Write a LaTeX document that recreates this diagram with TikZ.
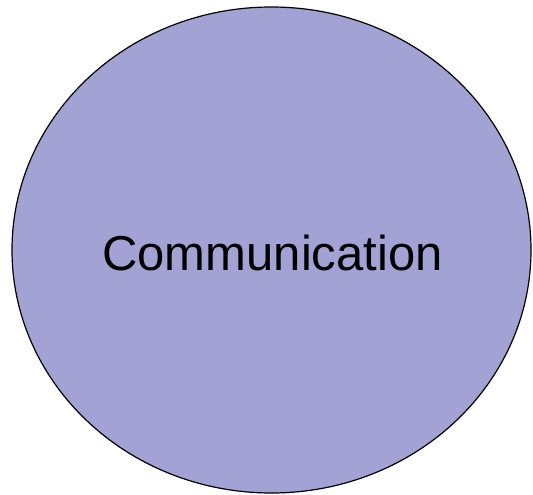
\documentclass[tikz,border=0pt]{standalone}
\usepackage{fontspec}
\setmainfont{Liberation Sans}
\definecolor{commfill}{RGB}{162,162,212}

\begin{document}
\begin{tikzpicture}[x=1pt,y=-1pt,
      every node/.style={font=\fontsize{49}{52}\selectfont}]
      \useasboundingbox (0,0) rectangle (533,495);
      \draw [fill=commfill,line width=1.2pt] (271.5,250) ellipse [x radius=259.5,y radius=243];
      \node (comm) at (272.5,253) {Communication};
    \end{tikzpicture}
\end{document}
